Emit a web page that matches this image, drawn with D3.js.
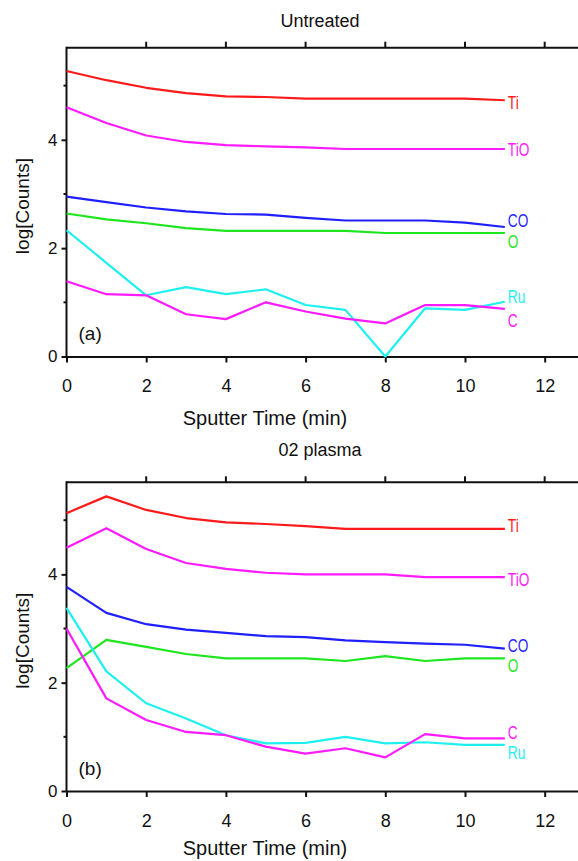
<!DOCTYPE html>
<html>
<head>
<meta charset="utf-8">
<script src="https://cdn.jsdelivr.net/npm/d3@7"></script>
<style>
  html, body { margin: 0; padding: 0; background: #fff; }
  svg { display: block; font-family: "Liberation Sans", Arial, sans-serif; }
</style>
</head>
<body>
<svg id="chart" width="578" height="861"></svg>
<script>
// ---------- data ----------
const times = [0, 1, 2, 3, 4, 5, 6, 7, 8, 9, 10, 11];
const xTicks = [0, 2, 4, 6, 8, 10, 12];
const yMajorTicks = [0, 2, 4];
const yMinorTicks = [1, 3, 5];
const seriesNames = ["Ti", "TiO", "CO", "O", "Ru", "C"];

// (a) Untreated
const tiA  = [5.27, 5.10, 4.96, 4.86, 4.80, 4.79, 4.76, 4.76, 4.76, 4.76, 4.76, 4.73];
const tioA = [4.60, 4.31, 4.08, 3.96, 3.90, 3.88, 3.86, 3.83, 3.83, 3.83, 3.83, 3.83];
const coA  = [2.95, 2.85, 2.75, 2.68, 2.63, 2.62, 2.56, 2.51, 2.51, 2.51, 2.47, 2.39];
const oA   = [2.64, 2.53, 2.46, 2.37, 2.32, 2.32, 2.32, 2.32, 2.28, 2.28, 2.28, 2.28];
const ruA  = [2.33, 1.73, 1.13, 1.28, 1.15, 1.24, 0.95, 0.86, 0.00, 0.89, 0.86, 1.01];
const cA   = [1.39, 1.15, 1.13, 0.78, 0.69, 1.00, 0.83, 0.70, 0.61, 0.95, 0.95, 0.88];

// (b) O2 plasma
const tiB  = [5.13, 5.44, 5.19, 5.04, 4.96, 4.93, 4.89, 4.84, 4.84, 4.84, 4.84, 4.84];
const tioB = [4.49, 4.85, 4.47, 4.21, 4.10, 4.03, 4.00, 4.00, 4.00, 3.95, 3.95, 3.95];
const coB  = [3.77, 3.29, 3.08, 2.98, 2.92, 2.86, 2.84, 2.78, 2.75, 2.72, 2.70, 2.63];
const oB   = [2.27, 2.79, 2.66, 2.53, 2.45, 2.45, 2.45, 2.40, 2.49, 2.40, 2.45, 2.45];
const ruB  = [3.38, 2.21, 1.62, 1.34, 1.03, 0.88, 0.89, 1.00, 0.88, 0.90, 0.85, 0.85];
const cB   = [3.00, 1.71, 1.31, 1.09, 1.03, 0.82, 0.69, 0.79, 0.62, 1.05, 0.97, 0.97];

// ---------- styling ----------
const colors = { Ti: "#ff1a1a", TiO: "#ff1aff", CO: "#1f1fff", O: "#1ee61e", Ru: "#1ef0f0", C: "#ff1aff" };

const panels = [
  { title: "Untreated", tag: "(a)", top: 47.7, bottom: 356.5,
    series: { Ti: tiA, TiO: tioA, CO: coA, O: oA, Ru: ruA, C: cA },
    labelDy: { Ti: 2, TiO: 1, CO: -6, O: 9, Ru: -5, C: 12 },
    titleY: 27, xTickY: 392, xLabelY: 425, tagY: 340 },
  { title: "02 plasma", tag: "(b)", top: 482.3, bottom: 791,
    series: { Ti: tiB, TiO: tioB, CO: coB, O: oB, Ru: ruB, C: cB },
    labelDy: { Ti: -3, TiO: 3, CO: -3, O: 7, Ru: 8, C: -6 },
    titleY: 456, xTickY: 827, xLabelY: 855, tagY: 775 }
];

const svg = d3.select("#chart");
const x = d3.scaleLinear().domain([0, 13.2]).range([66.5, 592.5]);
const titleX = 320;

panels.forEach((p, pi) => {
  const y = d3.scaleLinear().domain([0, 5.7]).range([p.bottom, p.top]);
  const g = svg.append("g");

  // top frame line
  g.append("line")
    .attr("x1", x(0)).attr("x2", x.range()[1])
    .attr("y1", y(5.7)).attr("y2", y(5.7))
    .attr("stroke", "#111").attr("stroke-width", 2);

  // top ticks (outward)
  g.selectAll(".ttick").data(xTicks.filter(d => d > 0)).join("line")
    .attr("x1", d => x(d)).attr("x2", d => x(d))
    .attr("y1", y(5.7)).attr("y2", y(5.7) - 6)
    .attr("stroke", "#111").attr("stroke-width", 2);

  // bottom axis
  const xAxis = d3.axisBottom(x).tickValues(xTicks).tickSize(6).tickSizeOuter(0).tickPadding(12);
  const gx = g.append("g").attr("transform", `translate(0,${p.bottom})`).call(xAxis);
  gx.select(".domain").attr("stroke", "#111").attr("stroke-width", 2);
  gx.selectAll(".tick line").attr("stroke", "#111").attr("stroke-width", 2);
  gx.selectAll(".tick text").attr("font-size", 18).attr("fill", "#111")
    .attr("font-family", "'Liberation Sans', Arial, sans-serif")
    .attr("y", p.xTickY - p.bottom).attr("dy", 0);

  // left axis
  const yAxis = d3.axisLeft(y).tickValues(yMajorTicks).tickSize(5).tickSizeOuter(0).tickPadding(4)
    .tickFormat(d3.format("d"));
  const gy = g.append("g").attr("transform", `translate(${x(0)},0)`).call(yAxis);
  gy.select(".domain").attr("stroke", "#111").attr("stroke-width", 2)
    .attr("d", `M0,${p.bottom + 1}V${p.top - 1}`);
  gy.selectAll(".tick line").attr("stroke", "#111").attr("stroke-width", 2);
  gy.selectAll(".tick text").attr("font-size", 17).attr("fill", "#111")
    .attr("font-family", "'Liberation Sans', Arial, sans-serif");
  g.selectAll(".minor").data(yMinorTicks).join("line")
    .attr("x1", x(0) - 3).attr("x2", x(0))
    .attr("y1", d => y(d)).attr("y2", d => y(d))
    .attr("stroke", "#111").attr("stroke-width", 2);

  // lines
  const line = d3.line().x((d, i) => x(times[i])).y(d => y(d));
  const plotG = g.append("g");
  seriesNames.forEach(name => {
    plotG.append("path")
      .datum(p.series[name])
      .attr("d", line)
      .attr("fill", "none")
      .attr("stroke", colors[name])
      .attr("stroke-width", 2.2)
      .attr("stroke-linejoin", "round");
  });

  // series labels (tall, narrow lettering)
  seriesNames.forEach(name => {
    const vals = p.series[name];
    const lx = x(times[times.length - 1]) + 3;
    const ly = y(vals[vals.length - 1]) + p.labelDy[name];
    g.append("text")
      .attr("transform", `translate(${lx},${ly}) scale(0.72,1)`)
      .attr("dominant-baseline", "central")
      .attr("font-size", 19)
      .attr("fill", colors[name])
      .text(name);
  });

  // panel tag
  g.append("text")
    .attr("x", x(0) + 12).attr("y", p.tagY)
    .attr("font-size", 19).attr("fill", "#111")
    .text(p.tag);

  // title
  g.append("text")
    .attr("x", titleX).attr("y", p.titleY)
    .attr("text-anchor", "middle")
    .attr("font-size", 18).attr("fill", "#111")
    .text(p.title);

  // x label
  g.append("text")
    .attr("x", 265).attr("y", p.xLabelY)
    .attr("text-anchor", "middle")
    .attr("font-size", 20).attr("fill", "#111")
    .text("Sputter Time (min)");

  // y label
  g.append("text")
    .attr("transform", `translate(29,${(p.top + p.bottom) / 2 + 4}) rotate(-90)`)
    .attr("text-anchor", "middle")
    .attr("font-size", 19).attr("fill", "#111")
    .text("log[Counts]");
});
</script>
</body>
</html>
